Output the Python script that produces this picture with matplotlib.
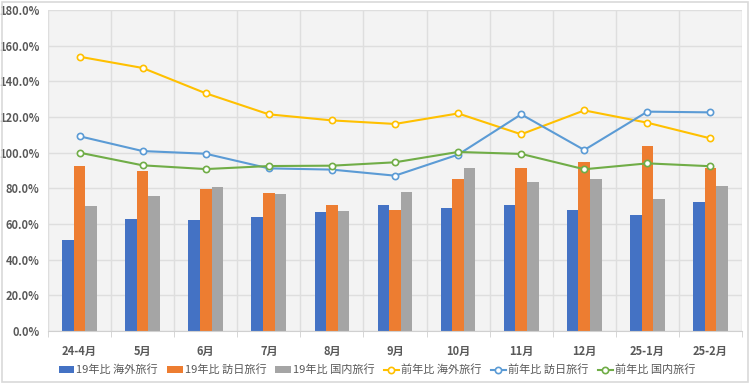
import matplotlib.pyplot as plt
import numpy as np
from matplotlib.ticker import FuncFormatter, MultipleLocator
from matplotlib.patches import Rectangle

plt.rcParams['font.family'] = ['Noto Sans CJK JP', 'DejaVu Sans']

months = ['24-4月', '5月', '6月', '7月', '8月', '9月', '10月', '11月', '12月', '25-1月', '25-2月']

# 19年比 (棒)
bar_kaigai = [50.9, 62.8, 62.4, 63.9, 66.7, 70.5, 68.8, 70.6, 68.0, 65.2, 72.2]
bar_honichi = [92.7, 89.7, 79.8, 77.5, 70.5, 68.0, 85.2, 91.2, 94.6, 103.9, 91.2]
bar_kokunai = [69.9, 75.7, 80.6, 76.6, 67.3, 78.1, 91.6, 83.7, 85.0, 74.2, 81.3]

# 前年比 (折れ線)
line_kaigai = [153.8, 147.5, 133.3, 121.5, 118.1, 116.1, 122.0, 110.3, 123.7, 116.8, 108.0]
line_honichi = [109.2, 100.9, 99.4, 91.2, 90.5, 87.1, 98.9, 121.5, 101.5, 123.0, 122.6]
line_kokunai = [100.0, 92.9, 90.8, 92.5, 92.7, 94.6, 100.4, 99.3, 90.7, 94.0, 92.4]

fig = plt.figure(figsize=(7.5, 3.84), dpi=100)
ax = fig.add_axes([48 / 750, 1 - 331 / 384, 694 / 750, 321 / 384])
fig.patches.append(Rectangle((0.002, 0.004), 0.995, 0.99, transform=fig.transFigure,
                             fill=False, edgecolor='#d9d9d9', linewidth=1.2))

x = np.arange(len(months))
w = 0.183
ax.set_facecolor('#f3f3f3')
b1 = ax.bar(x - w, bar_kaigai, w, color='#4472C4', label='19年比 海外旅行', zorder=2)
b2 = ax.bar(x, bar_honichi, w, color='#ED7D31', label='19年比 訪日旅行', zorder=2)
b3 = ax.bar(x + w, bar_kokunai, w, color='#A5A5A5', label='19年比 国内旅行', zorder=2)

mk = dict(marker='o', markersize=4.5, markerfacecolor='white', markeredgewidth=1.2, linewidth=1.5, zorder=3)
l1, = ax.plot(x, line_kaigai, color='#FFC000', label='前年比 海外旅行', **mk)
l2, = ax.plot(x, line_honichi, color='#5B9BD5', label='前年比 訪日旅行', **mk)
l3, = ax.plot(x, line_kokunai, color='#70AD47', label='前年比 国内旅行', **mk)

ax.set_xlim(-0.5, len(months) - 0.5)
ax.set_ylim(0, 180)
ax.yaxis.set_major_locator(MultipleLocator(20))
ax.yaxis.set_major_formatter(FuncFormatter(lambda v, p: f'{v:.1f}%'))
ax.set_xticks(x)
ax.set_xticklabels(months)
ax.set_xticks(np.arange(-0.5, len(months)), minor=True)
ax.grid(True, which='major', axis='y', color='#dedede', linewidth=1, zorder=0)
ax.grid(True, which='minor', axis='x', color='#dedede', linewidth=1, zorder=0)
ax.set_axisbelow(True)

for s in ['top', 'right', 'left']:
    ax.spines[s].set_visible(False)
ax.spines['bottom'].set_color('#d0d0d0')
ax.tick_params(axis='x', which='major', length=0, pad=10)
ax.tick_params(axis='x', which='minor', length=4, color='#d0d0d0')
ax.tick_params(axis='y', length=0, pad=6)
for lab in ax.get_xticklabels() + ax.get_yticklabels():
    lab.set_fontsize(8)
    lab.set_fontweight('bold')
    lab.set_color('#595959')

handles = [b1, b2, b3, l1, l2, l3]
leg = fig.legend(handles, [h.get_label() for h in handles], loc='center',
                 bbox_to_anchor=(0.503, 1 - 370 / 384), ncol=6, frameon=False,
                 fontsize=8, handlelength=1.4, handleheight=0.5, handletextpad=0.2,
                 columnspacing=0.8)
for t in leg.get_texts():
    t.set_color('#595959')

fig.savefig('out.png', dpi=100)
